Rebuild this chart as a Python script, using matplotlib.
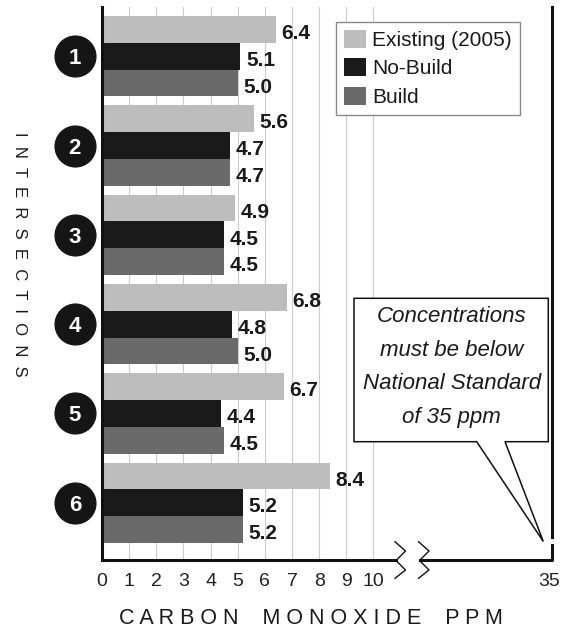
import matplotlib
matplotlib.use("Agg")
import matplotlib.pyplot as plt
import numpy as np
from matplotlib.lines import Line2D
from matplotlib.patches import Polygon

intersections = ["1", "2", "3", "4", "5", "6"]
series_names = ["Existing (2005)", "No-Build", "Build"]
existing = [6.4, 5.6, 4.9, 6.8, 6.7, 8.4]
no_build = [5.1, 4.7, 4.5, 4.8, 4.4, 5.2]
build = [5.0, 4.7, 4.5, 5.0, 4.5, 5.2]
tick_values = [0, 1, 2, 3, 4, 5, 6, 7, 8, 9, 10]
standard = 35
grid_values = [1, 2, 3, 4, 5, 6, 7, 8, 9, 10]
note = "Concentrations\nmust be below\nNational Standard\nof 35 ppm"

colors = ["#bdbdbd", "#1a1a1a", "#6a6a6a"]

W, H = 561, 634

plt.rcParams["font.family"] = ["Liberation Sans", "DejaVu Sans"]


def px(x, y):
    # pixel position -> figure fraction
    return x / W, 1 - y / H


# broken x axis: 0..10 linear, 10..35 squeezed
K = (16.575 - 10) / 25


def fwd(x):
    x = np.asarray(x, dtype=float)
    return np.where(x <= 10, x, 10 + (x - 10) * K)


def inv(t):
    t = np.asarray(t, dtype=float)
    return np.where(t <= 10, t, 10 + (t - 10) / K)


fig = plt.figure(figsize=(W / 100, H / 100), dpi=100)
ax = fig.add_axes([102 / W, (H - 560) / H, 450 / W, 553 / H])
ax.set_xscale("function", functions=(fwd, inv))
ax.set_xlim(0, standard)

y = np.arange(len(intersections))
ax.set_ylim(5.642, -0.552)

for gx in grid_values:
    ax.axvline(gx, color="#cccccc", lw=0.8, zorder=0)

bar_h = 0.3
for k, (vals, c) in enumerate(zip([existing, no_build, build], colors)):
    pos = y + (k - 1) * bar_h
    ax.barh(pos, vals, height=bar_h, color=c, zorder=2, label=series_names[k])
    for p, v in zip(pos, vals):
        ax.annotate(f"{v:.1f}", (v, p), xytext=(4, -3), textcoords="offset points",
                    ha="left", va="center", fontsize=15, fontweight="bold",
                    color="#1a1a1a")

# numbered circles
ax.scatter([-1.0] * len(y), y, s=860, color="#151515", clip_on=False, zorder=3)
for p, name in zip(y, intersections):
    ax.text(-1.0, p, name, ha="center", va="center_baseline", color="white",
            fontsize=16, fontweight="bold", clip_on=False, zorder=4)

ax.set_xticks(tick_values)
ax.set_xticklabels([str(t) for t in tick_values], fontsize=14, color="#222222")
ax.tick_params(axis="x", length=0, pad=9)
ax.set_yticks([])
# label for the standard at the far end of the broken axis
ax.annotate(str(standard), (standard, 0), xycoords=("data", "axes fraction"),
            xytext=(-2, -9), textcoords="offset points", ha="center", va="top",
            fontsize=14, color="#222222", annotation_clip=False)

for s in ["top", "right", "bottom"]:
    ax.spines[s].set_visible(False)
ax.spines["left"].set_linewidth(2.2)
ax.spines["left"].set_color("#111111")

# bottom axis with break, right axis with small gap
lw_ax = 2.2
for xs, ys in [([102, 396], [560, 560]), ([420, 552, 552], [560, 560, 545]), ([552, 552], [537, 7])]:
    fig.add_artist(Line2D([a / W for a in xs], [1 - b / H for b in ys], color="#111111",
                          lw=lw_ax, solid_capstyle="projecting", transform=fig.transFigure))
for x0 in [395, 418.5]:
    zx = [x0, x0 + 10.5, x0 + 1, x0 + 10.5, x0]
    zy = [541.7, 551, 560.5, 570, 578.3]
    fig.add_artist(Line2D([a / W for a in zx], [1 - b / H for b in zy], color="#111111",
                          lw=1.0, transform=fig.transFigure))

leg = ax.legend(loc="upper left", bbox_to_anchor=((336 - 102) / 450, (560 - 21.7) / 553),
                borderaxespad=0, fontsize=15, frameon=True, fancybox=False,
                handlelength=1.05, handleheight=0.95, handletextpad=0.3,
                labelspacing=0.4, borderpad=0.38, framealpha=1)
leg.get_frame().set_edgecolor("#888888")
leg.get_frame().set_linewidth(1.0)
for t in leg.get_texts():
    t.set_color("#1a1a1a")

# callout box pointing at the 35 ppm standard
pts = [(354, 298.3), (548.3, 298.3), (548.3, 441.7), (505, 441.7), (543.3, 541.5),
       (476.7, 441.7), (354, 441.7)]
fig.add_artist(Polygon([px(a, b) for a, b in pts], closed=True, facecolor="white",
                       edgecolor="#111111", lw=1.1, transform=fig.transFigure, zorder=5))
fig.text(*px(451.7, 367), note, ha="center", va="center", fontsize=16, style="italic",
         linespacing=1.78, color="#1a1a1a", zorder=6)

fig.text(*px(311, 619), "C A R B O N    M O N O X I D E    P P M", ha="center",
         va="center", fontsize=15.5, color="#1a1a1a")
fig.text(*px(19, 254), "I  N  T  E  R  S  E  C  T  I  O  N  S", ha="center", va="center",
         rotation=270, fontsize=12, color="#1a1a1a")

fig.savefig("out.png", dpi=100)
